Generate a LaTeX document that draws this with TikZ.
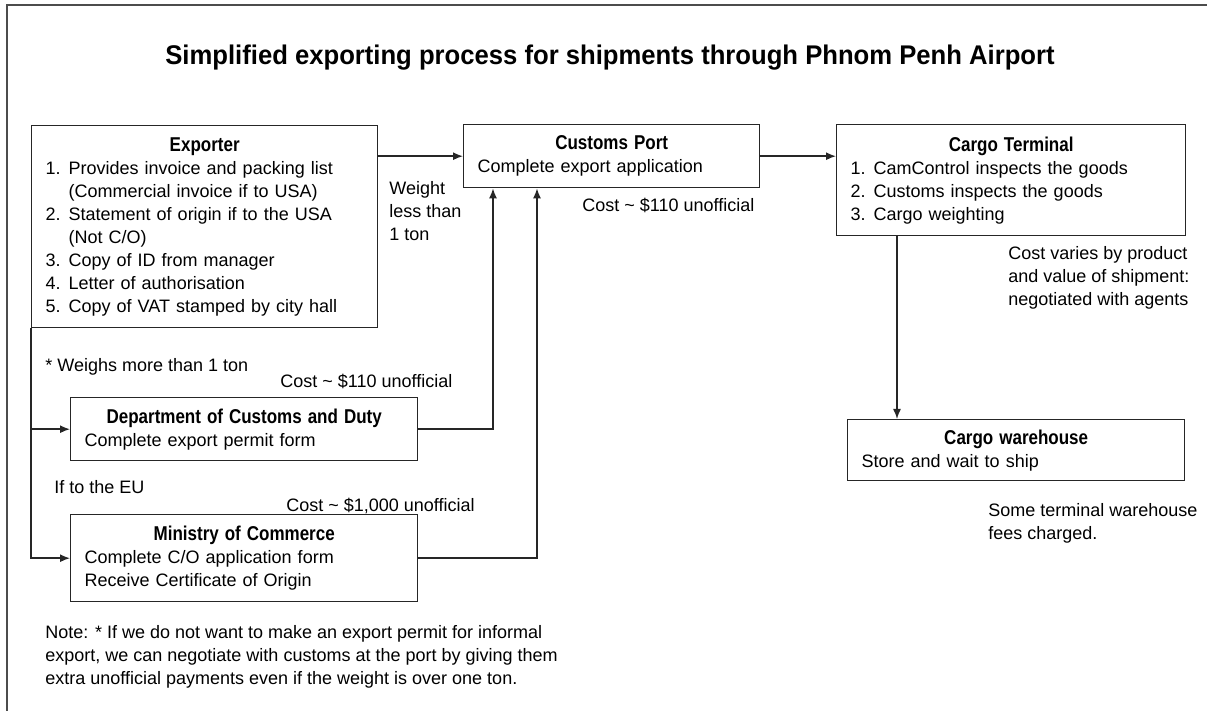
\documentclass[tikz,border=0pt]{standalone}
\usepackage{fontspec}
\setmainfont{Liberation Sans}
\newfontfamily\headfont[FakeStretch=0.85]{Liberation Sans}
\newfontfamily\titlefont[FakeStretch=0.95]{Liberation Sans}
\usetikzlibrary{arrows.meta}
\setlength{\parindent}{0pt}
\newcommand{\itm}[1]{\makebox[11.5pt][l]{#1}}
\newcommand{\cont}{\hspace*{11.5pt}}
\newcommand{\boxhead}[1]{\makebox[\hsize]{\headfont\fontsize{10}{11.5}\selectfont\bfseries #1}}
\tikzset{
	stepbox/.style={
		draw=black!85,
		line width=0.7pt,
		anchor=north west,
		inner xsep=7pt,
		inner ysep=0pt,
		align=left,
		font=\fontsize{9}{11.5}\selectfont
	},
	remark/.style={
		anchor=north west,
		inner sep=0pt,
		align=left,
		font=\fontsize{9}{11.5}\selectfont
	},
	link/.style={draw=black!85, line width=0.7pt},
	arr/.style={link, -{Latex[length=5pt,width=4pt]}}
}

\begin{document}
\begin{tikzpicture}[x=0.5pt,y=-0.5pt]
	\useasboundingbox (0,0) rectangle (1207,711);
	\draw[black!70, line width=1pt] (7,711) -- (7,5) -- (1207,5);
	\node[anchor=base, font=\titlefont\bfseries\fontsize{13.5}{16}\selectfont] (title) at (610,65) {Simplified exporting process for shipments through Phnom Penh Airport};

	% boxes
	\node[stepbox, text width=159pt, minimum height=101pt] (exporter) at (31,125) {\boxhead{Exporter}\\
		\itm{1.}Provides invoice and packing list\\
		\cont(Commercial invoice if to USA)\\
		\itm{2.}Statement of origin if to the USA\\
		\cont(Not C/O)\\
		\itm{3.}Copy of ID from manager\\
		\itm{4.}Letter of authorisation\\
		\itm{5.}Copy of VAT stamped by city hall};
	\node[stepbox, text width=134pt, minimum height=31.5pt] (customs) at (463,124) {\boxhead{Customs Port}\\
		Complete export application};
	\node[stepbox, text width=160.5pt, minimum height=55.5pt] (terminal) at (836,124) {\boxhead{Cargo Terminal}\\
		\itm{1.}CamControl inspects the goods\\
		\itm{2.}Customs inspects the goods\\
		\itm{3.}Cargo weighting};
	\node[stepbox, text width=154.5pt, minimum height=30.5pt] (warehouse) at (847,419) {\boxhead{Cargo warehouse}\\
		Store and wait to ship};
	\node[stepbox, text width=159.5pt, minimum height=31.5pt] (dept) at (70,397) {\boxhead{Department of Customs and Duty}\\
		Complete export permit form};
	\node[stepbox, text width=159.5pt, minimum height=43.5pt] (ministry) at (70,514) {\boxhead{Ministry of Commerce}\\
		Complete C/O application form\\
		Receive Certificate of Origin};

	% labels
	\node[remark] (weight) at (389,181) {Weight\\less than\\1 ton};
	\node[remark] (costport) at (582,198) {Cost \textasciitilde\ \$110 unofficial};
	\node[remark] (costterm) at (1008,246) {Cost varies by product\\and value of shipment:\\negotiated with agents};
	\node[remark] (heavy) at (45,358) {* Weighs more than 1 ton};
	\node[remark] (costdept) at (280,374) {Cost \textasciitilde\ \$110 unofficial};
	\node[remark] (eu) at (54,480) {If to the EU};
	\node[remark] (costmin) at (286,498) {Cost \textasciitilde\ \$1,000 unofficial};
	\node[remark] (fees) at (988,503) {Some terminal warehouse\\fees charged.};
	\node[remark] (footnote) at (45,625) {Note: * If we do not want to make an export permit for informal\\export, we can negotiate with customs at the port by giving them\\extra unofficial payments even if the weight is over one ton.};

	% connectors
	\draw[arr] (customs.west -| exporter.east) -- (customs.west);
	\draw[arr] (customs.east) -- (customs.east -| terminal.west);
	\draw[arr] ([xshift=30.5pt]terminal.south west) -- ([xshift=30.5pt]terminal.south west |- warehouse.north);
	\draw[arr] (exporter.south west) |- (ministry.west);
	\draw[arr] (exporter.south west |- dept.west) -- (dept.west);
	\draw[arr] (dept.east) -| ([xshift=15pt]customs.south west);
	\draw[arr] (ministry.east) -| ([xshift=37pt]customs.south west);
\end{tikzpicture}
\end{document}
